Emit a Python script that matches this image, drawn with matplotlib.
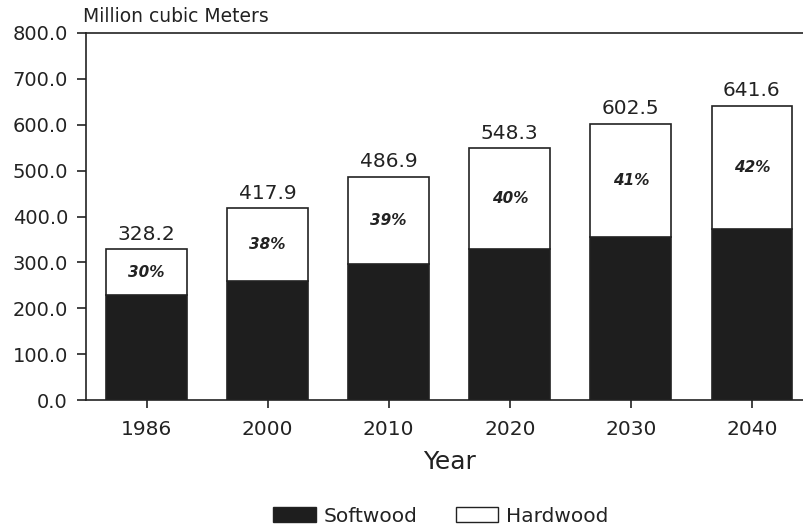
import matplotlib
matplotlib.use("Agg")
import matplotlib.pyplot as plt
from matplotlib.patches import Patch

# Roundwood harvest projections, million cubic meters
years = ["1986", "2000", "2010", "2020", "2030", "2040"]
totals = [328.2, 417.9, 486.9, 548.3, 602.5, 641.6]
hardwood_pct = [30, 38, 39, 40, 41, 42]

hardwood = [t * p / 100.0 for t, p in zip(totals, hardwood_pct)]
softwood = [t - h for t, h in zip(totals, hardwood)]

ink = "#222222"
dark_fill = "#1e1e1e"

plt.rcParams["font.family"] = ["DejaVu Sans"]

fig = plt.figure(figsize=(8.04, 5.32), dpi=100)
ax = fig.add_axes([86 / 804, 1 - 400 / 532, (804 - 86) / 804, (400 - 33) / 532])

x = list(range(len(years)))
width = 0.667
ax.bar(x, softwood, width=width, color=dark_fill, edgecolor=ink, linewidth=1.2, zorder=2)
ax.bar(x, hardwood, width=width, bottom=softwood, color="white", edgecolor=ink,
       linewidth=1.2, zorder=2)

# total above each bar, hardwood share inside the white segment
for xi, tot, sw, pct in zip(x, totals, softwood, hardwood_pct):
    ax.annotate(f"{tot:.1f}", (xi, tot), xytext=(0, 7), textcoords="offset points",
                ha="center", va="baseline", fontsize=14.5, color=ink)
    ax.text(xi, (sw + tot) / 2, f"{pct}%", ha="center", va="center", fontsize=11,
            fontweight="bold", fontstyle="italic", color=ink)

ax.set_xlim(-0.5, 5.43)
ax.set_ylim(0, 800)
ax.set_yticks(range(0, 801, 100))
ax.set_yticklabels([f"{v:.1f}" for v in range(0, 801, 100)])
ax.set_xticks(x)
ax.set_xticklabels(years)

ax.tick_params(axis="y", direction="out", length=6.5, width=1.2, pad=6.5,
               labelsize=14, colors=ink)
ax.tick_params(axis="x", direction="out", length=5.8, width=1.2, pad=8.5,
               labelsize=14.5, colors=ink)

for side in ("left", "bottom", "top"):
    ax.spines[side].set_color(ink)
    ax.spines[side].set_linewidth(1.2)
ax.spines["right"].set_visible(False)

fig.text(83 / 804, 1 - 16 / 532, "Million cubic Meters", ha="left", va="center",
         fontsize=13.5, color=ink)
fig.text(450 / 804, 1 - 462 / 532, "Year", ha="center", va="center",
         fontsize=18, color=ink)

handles = [Patch(facecolor=dark_fill, edgecolor=ink, linewidth=1.0, label="Softwood"),
           Patch(facecolor="white", edgecolor=ink, linewidth=1.0, label="Hardwood")]
fig.legend(handles=handles, loc="center", bbox_to_anchor=(441 / 804, 1 - 516 / 532),
           ncol=2, frameon=False, fontsize=14.5, handlelength=2.1, handleheight=0.75,
           handletextpad=0.4, columnspacing=1.9, labelcolor=ink)

fig.savefig("out.png", dpi=100)
